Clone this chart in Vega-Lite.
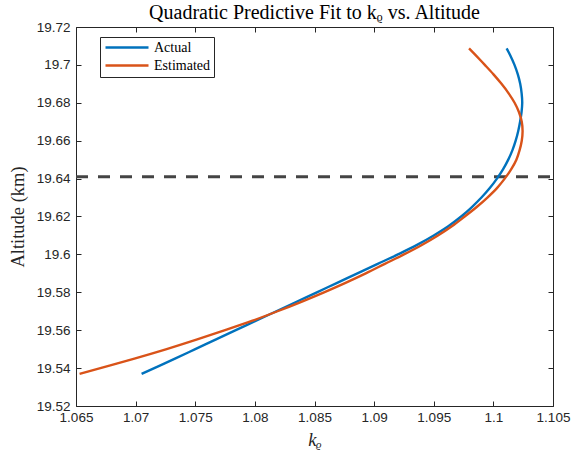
{
  "$schema": "https://vega.github.io/schema/vega-lite/v6.json",
  "width": 477,
  "height": 379,
  "autosize": {"type": "none"},
  "padding": {"left": 76, "top": 27, "right": 19, "bottom": 50},
  "background": "white",
  "title": {
    "text": "Quadratic Predictive Fit to kᵨ vs. Altitude",
    "font": "Liberation Serif",
    "fontSize": 20,
    "fontWeight": "normal",
    "color": "#000000",
    "anchor": "middle",
    "offset": -3
  },
  "config": {
    "view": {"stroke": "#262626", "strokeWidth": 1},
    "axis": {
      "domain": false,
      "labelFont": "Liberation Sans",
      "labelFontSize": 13.5,
      "labelColor": "#262626",
      "labelFlush": false,
      "titleFont": "Liberation Serif",
      "titleFontSize": 18.5,
      "titleFontWeight": "normal",
      "titleColor": "#262626",
      "tickColor": "#262626",
      "tickWidth": 1,
      "tickSize": -5,
      "gridColor": "#e2e2e2",
      "gridWidth": 1
    }
  },
  "datasets": {
    "curves": [
      {"series": "Actual", "h": 19.537, "k": 1.0705},
      {"series": "Actual", "h": 19.545, "k": 1.0733},
      {"series": "Actual", "h": 19.55, "k": 1.075},
      {"series": "Actual", "h": 19.555, "k": 1.0767},
      {"series": "Actual", "h": 19.56, "k": 1.0784},
      {"series": "Actual", "h": 19.565, "k": 1.0801},
      {"series": "Actual", "h": 19.57, "k": 1.0818},
      {"series": "Actual", "h": 19.575, "k": 1.0835},
      {"series": "Actual", "h": 19.58, "k": 1.0852},
      {"series": "Actual", "h": 19.585, "k": 1.0869},
      {"series": "Actual", "h": 19.59, "k": 1.0886},
      {"series": "Actual", "h": 19.595, "k": 1.0903},
      {"series": "Actual", "h": 19.6, "k": 1.092},
      {"series": "Actual", "h": 19.605, "k": 1.0936},
      {"series": "Actual", "h": 19.61, "k": 1.095},
      {"series": "Actual", "h": 19.615, "k": 1.09625},
      {"series": "Actual", "h": 19.62, "k": 1.0973},
      {"series": "Actual", "h": 19.625, "k": 1.0982},
      {"series": "Actual", "h": 19.63, "k": 1.099},
      {"series": "Actual", "h": 19.635, "k": 1.0997},
      {"series": "Actual", "h": 19.64, "k": 1.1003},
      {"series": "Actual", "h": 19.645, "k": 1.10082},
      {"series": "Actual", "h": 19.65, "k": 1.10125},
      {"series": "Actual", "h": 19.655, "k": 1.1016},
      {"series": "Actual", "h": 19.66, "k": 1.10187},
      {"series": "Actual", "h": 19.665, "k": 1.10208},
      {"series": "Actual", "h": 19.67, "k": 1.10224},
      {"series": "Actual", "h": 19.675, "k": 1.10236},
      {"series": "Actual", "h": 19.68, "k": 1.10242},
      {"series": "Actual", "h": 19.685, "k": 1.10237},
      {"series": "Actual", "h": 19.69, "k": 1.10225},
      {"series": "Actual", "h": 19.695, "k": 1.10205},
      {"series": "Actual", "h": 19.7, "k": 1.10177},
      {"series": "Actual", "h": 19.705, "k": 1.10142},
      {"series": "Actual", "h": 19.7087, "k": 1.10111},
      {"series": "Estimated", "h": 19.537, "k": 1.0653},
      {"series": "Estimated", "h": 19.545, "k": 1.0699},
      {"series": "Estimated", "h": 19.55, "k": 1.0726},
      {"series": "Estimated", "h": 19.555, "k": 1.0751},
      {"series": "Estimated", "h": 19.56, "k": 1.0775},
      {"series": "Estimated", "h": 19.565, "k": 1.0798},
      {"series": "Estimated", "h": 19.57, "k": 1.0819},
      {"series": "Estimated", "h": 19.575, "k": 1.0839},
      {"series": "Estimated", "h": 19.58, "k": 1.0858},
      {"series": "Estimated", "h": 19.585, "k": 1.0876},
      {"series": "Estimated", "h": 19.59, "k": 1.0893},
      {"series": "Estimated", "h": 19.595, "k": 1.0909},
      {"series": "Estimated", "h": 19.6, "k": 1.0925},
      {"series": "Estimated", "h": 19.605, "k": 1.094},
      {"series": "Estimated", "h": 19.61, "k": 1.09535},
      {"series": "Estimated", "h": 19.615, "k": 1.09655},
      {"series": "Estimated", "h": 19.62, "k": 1.0976},
      {"series": "Estimated", "h": 19.625, "k": 1.0986},
      {"series": "Estimated", "h": 19.63, "k": 1.0995},
      {"series": "Estimated", "h": 19.635, "k": 1.1003},
      {"series": "Estimated", "h": 19.64, "k": 1.10095},
      {"series": "Estimated", "h": 19.645, "k": 1.1015},
      {"series": "Estimated", "h": 19.65, "k": 1.10193},
      {"series": "Estimated", "h": 19.655, "k": 1.1022},
      {"series": "Estimated", "h": 19.66, "k": 1.10238},
      {"series": "Estimated", "h": 19.665, "k": 1.10245},
      {"series": "Estimated", "h": 19.67, "k": 1.10238},
      {"series": "Estimated", "h": 19.675, "k": 1.10215},
      {"series": "Estimated", "h": 19.68, "k": 1.10178},
      {"series": "Estimated", "h": 19.685, "k": 1.10128},
      {"series": "Estimated", "h": 19.69, "k": 1.10068},
      {"series": "Estimated", "h": 19.695, "k": 1.10001},
      {"series": "Estimated", "h": 19.7, "k": 1.09928},
      {"series": "Estimated", "h": 19.705, "k": 1.09853},
      {"series": "Estimated", "h": 19.7087, "k": 1.09796}
    ],
    "threshold": [{"h": 19.641, "kFrom": 1.065, "kTo": 1.105}]
  },
  "resolve": {"axis": {"x": "independent", "y": "independent"}},
  "layer": [
    {
      "data": {"name": "threshold"},
      "mark": {"type": "rule", "color": "#444444", "strokeWidth": 3, "strokeDash": [12, 10]},
      "encoding": {
        "x": {
          "field": "kFrom", "type": "quantitative",
          "scale": {"domain": [1.065, 1.105], "nice": false, "zero": false},
          "axis": {"orient": "top", "labels": false, "grid": false, "title": null,
                   "values": [1.065, 1.07, 1.075, 1.08, 1.085, 1.09, 1.095, 1.1, 1.105]}
        },
        "x2": {"field": "kTo"},
        "y": {
          "field": "h", "type": "quantitative",
          "scale": {"domain": [19.52, 19.72], "nice": false, "zero": false},
          "axis": {"orient": "right", "labels": false, "grid": false, "title": null,
                   "values": [19.52, 19.54, 19.56, 19.58, 19.6, 19.62, 19.64, 19.66, 19.68, 19.7, 19.72]}
        }
      }
    },
    {
      "data": {"name": "curves"},
      "mark": {"type": "line", "strokeWidth": 2.4, "interpolate": "catmull-rom"},
      "encoding": {
        "x": {
          "field": "k", "type": "quantitative",
          "scale": {"domain": [1.065, 1.105], "nice": false, "zero": false},
          "axis": {"orient": "bottom", "format": "~g", "labelPadding": 9, "title": "kᵨ",
                   "titleFontStyle": "italic", "titlePadding": 7,
                   "values": [1.065, 1.07, 1.075, 1.08, 1.085, 1.09, 1.095, 1.1, 1.105]}
        },
        "y": {
          "field": "h", "type": "quantitative",
          "scale": {"domain": [19.52, 19.72], "nice": false, "zero": false},
          "axis": {"orient": "left", "format": "~g", "labelPadding": 11, "title": "Altitude (km)",
                   "titlePadding": 9,
                   "values": [19.52, 19.54, 19.56, 19.58, 19.6, 19.62, 19.64, 19.66, 19.68, 19.7, 19.72]}
        },
        "color": {
          "field": "series", "type": "nominal",
          "scale": {"domain": ["Actual", "Estimated"], "range": ["#0072BD", "#D95319"]},
          "legend": {
            "title": null, "orient": "none", "legendX": 24, "legendY": 10,
            "fillColor": "white", "strokeColor": "#262626", "padding": 4,
            "symbolType": "stroke", "symbolSize": 1849, "symbolStrokeWidth": 2.5,
            "clipHeight": 13, "rowPadding": 3, "labelOffset": 4,
            "labelFont": "Liberation Serif", "labelFontSize": 14, "labelColor": "#000000"
          }
        },
        "order": {"field": "h", "type": "quantitative"}
      }
    }
  ]
}
